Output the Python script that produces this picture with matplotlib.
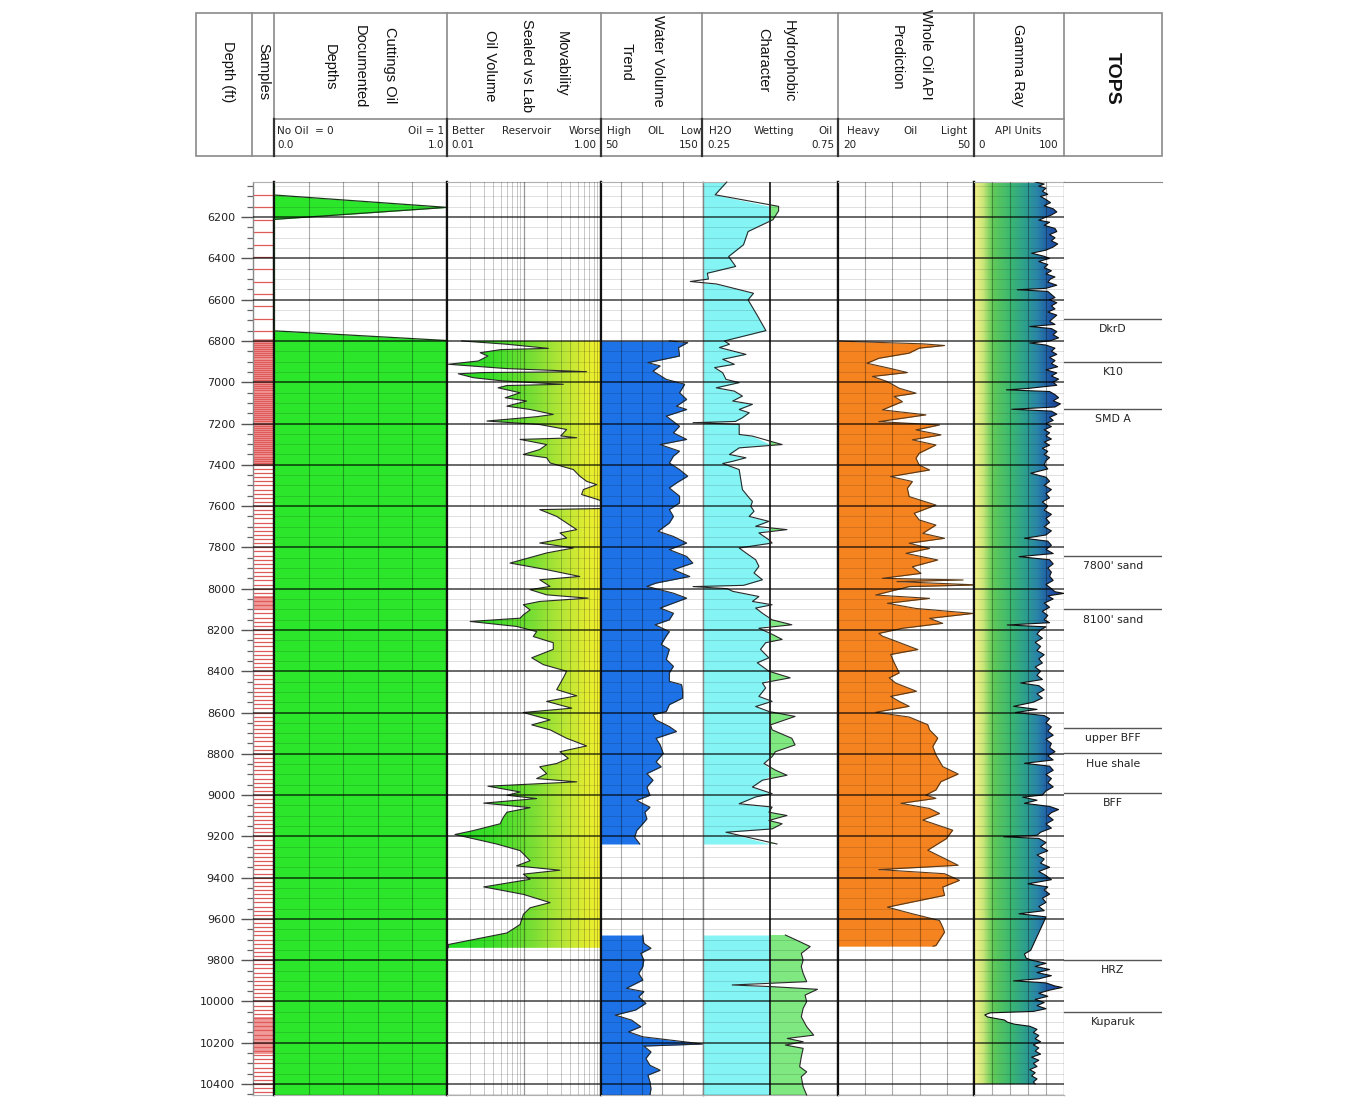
import numpy as np
import matplotlib
matplotlib.use("Agg")
import matplotlib.pyplot as plt
from matplotlib.colors import LinearSegmentedColormap
from matplotlib.patches import PathPatch, Rectangle
from matplotlib.path import Path

# ---------------------------------------------------------------- data
depth_top, depth_bottom = 6030, 10453
depth_major = list(range(6200, 10401, 200))
depth_minor = [d for d in range(6050, 10451, 50) if d % 200 != 0]

# Cuttings oil (0 = no oil, 1 = oil)
cut_depth = [6030, 6093, 6153, 6211, 6751, 6798, 10453]
cut_oil = [0, 0, 1, 0, 0, 1, 1]

# Samples: (first, last, step) and filled (dense) intervals
sample_sections = [(6093, 6753, 60), (6800, 7400, 10), (7420, 10440, 20)]
sample_filled = [(6790, 7405), (8035, 8100), (10075, 10255)]

# Movability sealed vs lab oil volume (log 0.01 - 1)
mov_depth = [6800, 6816, 6836, 6842, 6857, 6873, 6897, 6913, 6934, 6949, 6953, 6959,
             6978, 6994, 7010, 7016, 7027, 7051, 7075, 7091, 7116, 7132, 7156, 7167,
             7188, 7205, 7229, 7260, 7269, 7277, 7302, 7326, 7350, 7366, 7391, 7423,
             7455, 7480, 7496, 7520, 7544, 7569, 7575, 7612, 7617, 7650, 7682, 7714,
             7730, 7755, 7779, 7803, 7827, 7876, 7908, 7941, 7957, 7989, 8005, 8030,
             8046, 8062, 8078, 8103, 8127, 8143, 8159, 8183, 8208, 8232, 8262, 8294,
             8335, 8368, 8400, 8432, 8489, 8519, 8546, 8579, 8600, 8636, 8660, 8684,
             8725, 8762, 8790, 8822, 8847, 8863, 8896, 8920, 8936, 8957, 8985, 9001,
             9017, 9039, 9061, 9083, 9107, 9139, 9172, 9191, 9237, 9269, 9318, 9343,
             9364, 9383, 9408, 9445, 9481, 9521, 9546, 9578, 9627, 9668, 9724, 9740]
mov_val = [0.0155, 0.060, 0.207, 0.05, 0.027, 0.034, 0.0255, 0.0104, 0.060, 0.65, 0.03, 0.014,
           0.022, 0.054, 0.324, 0.06, 0.046, 0.089, 0.057, 0.108, 0.060, 0.12, 0.24, 0.146,
           0.033, 0.16, 0.358, 0.30, 0.484, 0.089, 0.197, 0.16, 0.098, 0.197, 0.218, 0.437,
           0.53, 0.65, 0.88, 0.59, 0.56, 0.92, 1.0, 1.0, 0.16, 0.266, 0.358, 0.484,
           0.293, 0.358, 0.16, 0.437, 0.197, 0.066, 0.197, 0.53, 0.16, 0.218, 0.12, 0.197,
           0.68, 0.16, 0.098, 0.12, 0.098, 0.089, 0.020, 0.08, 0.146, 0.132, 0.24, 0.24,
           0.126, 0.178, 0.358, 0.324, 0.266, 0.484, 0.197, 0.417, 0.098, 0.218, 0.126, 0.218,
           0.358, 0.65, 0.293, 0.376, 0.266, 0.16, 0.197, 0.146, 0.484, 0.034, 0.089, 0.06,
           0.146, 0.03, 0.12, 0.06, 0.054, 0.049, 0.022, 0.0127, 0.044, 0.089, 0.12, 0.08,
           0.293, 0.098, 0.12, 0.03, 0.098, 0.218, 0.12, 0.098, 0.089, 0.06, 0.0104, 0.0104]

# Water volume trend (50 - 150), two logged intervals
wat_depth_a = [6800, 6808, 6832, 6873, 6905, 6921, 6946, 6986, 7010, 7051, 7083, 7116,
               7132, 7164, 7213, 7245, 7277, 7302, 7334, 7358, 7391, 7423, 7455, 7488,
               7512, 7552, 7585, 7617, 7650, 7682, 7722, 7747, 7779, 7811, 7844, 7876,
               7908, 7941, 7973, 7989, 8022, 8046, 8070, 8094, 8119, 8151, 8175, 8208,
               8229, 8270, 8294, 8343, 8376, 8408, 8449, 8465, 8497, 8530, 8562, 8595,
               8611, 8636, 8668, 8692, 8725, 8757, 8798, 8839, 8863, 8896, 8928, 8961,
               9001, 9026, 9059, 9083, 9115, 9139, 9172, 9204, 9237]
wat_val_a = [117, 135, 126, 127, 96, 108, 101, 114, 132, 127, 134, 124,
             134, 114, 127, 121, 134, 108, 127, 121, 117, 127, 135, 124,
             117, 127, 127, 117, 121, 117, 106, 121, 134, 117, 134, 140,
             121, 137, 104, 95, 121, 134, 121, 108, 121, 117, 103, 117,
             114, 109, 117, 114, 121, 117, 117, 129, 130, 130, 117, 114,
             101, 104, 117, 124, 104, 108, 111, 104, 109, 95, 101, 95,
             98, 85, 98, 93, 95, 91, 85, 83, 88]
wat_depth_b = [9678, 9718, 9742, 9767, 9799, 9831, 9864, 9896, 9936, 9952, 9977, 10009,
               10041, 10066, 10090, 10122, 10147, 10171, 10206, 10216, 10244, 10276, 10309,
               10333, 10357, 10389, 10422, 10453]
wat_val_b = [91, 92, 99, 89, 92, 91, 87, 91, 75, 92, 87, 94,
             84, 64, 80, 89, 77, 91, 150, 92, 99, 94, 98,
             108, 96, 98, 99, 98]

# Hydrophobic character (0.25 - 0.75)
hyd_depth_a = [6030, 6092, 6148, 6170, 6213, 6270, 6334, 6391, 6439, 6472, 6500, 6512,
               6524, 6569, 6601, 6674, 6750, 6800, 6816, 6832, 6865, 6889, 6913, 6929,
               6954, 6986, 7002, 7027, 7043, 7067, 7091, 7107, 7132, 7148, 7172, 7190,
               7196, 7204, 7253, 7261, 7302, 7318, 7350, 7366, 7383, 7394, 7423, 7472,
               7520, 7560, 7577, 7601, 7625, 7650, 7674, 7698, 7714, 7730, 7763, 7779,
               7803, 7827, 7860, 7892, 7924, 7957, 7984, 7990, 8000, 8013, 8038, 8062,
               8078, 8094, 8119, 8151, 8175, 8192, 8221, 8246, 8262, 8294, 8335, 8359,
               8400, 8432, 8457, 8481, 8522, 8546, 8571, 8595, 8619, 8660, 8684, 8725,
               8757, 8790, 8814, 8847, 8879, 8904, 8928, 8961, 8993, 9009, 9042, 9058,
               9083, 9099, 9123, 9139, 9164, 9180, 9237]
hyd_val_a = [0.338, 0.295, 0.53, 0.53, 0.509, 0.417, 0.40, 0.345, 0.371, 0.266, 0.27, 0.203,
             0.30, 0.437, 0.417, 0.45, 0.483, 0.329, 0.348, 0.311, 0.409, 0.323, 0.366, 0.293,
             0.323, 0.335, 0.384, 0.299, 0.366, 0.396, 0.36, 0.433, 0.384, 0.421, 0.396, 0.37,
             0.213, 0.384, 0.384, 0.433, 0.543, 0.384, 0.348, 0.409, 0.36, 0.323, 0.384, 0.39,
             0.396, 0.421, 0.433, 0.427, 0.439, 0.421, 0.494, 0.445, 0.561, 0.457, 0.494, 0.506,
             0.384, 0.409, 0.445, 0.457, 0.439, 0.47, 0.40, 0.213, 0.34, 0.36, 0.457, 0.433,
             0.506, 0.445, 0.47, 0.506, 0.579, 0.457, 0.506, 0.543, 0.482, 0.463, 0.494, 0.451,
             0.494, 0.573, 0.47, 0.482, 0.457, 0.506, 0.445, 0.494, 0.591, 0.50, 0.506, 0.579,
             0.591, 0.518, 0.506, 0.476, 0.518, 0.561, 0.47, 0.433, 0.506, 0.445, 0.384, 0.506,
             0.494, 0.561, 0.494, 0.543, 0.506, 0.335, 0.524]
hyd_depth_b = [9678, 9702, 9734, 9767, 9799, 9831, 9864, 9904, 9920, 9928, 9941, 9969,
               10001, 10033, 10074, 10122, 10163, 10179, 10195, 10211, 10227, 10268, 10316,
               10341, 10365, 10413, 10453]
hyd_val_b = [0.555, 0.595, 0.647, 0.614, 0.621, 0.614, 0.621, 0.634, 0.358, 0.503, 0.674, 0.628,
             0.634, 0.621, 0.614, 0.634, 0.66, 0.562, 0.621, 0.555, 0.621, 0.614, 0.608,
             0.634, 0.614, 0.621, 0.634]

# Whole oil API prediction (20 - 50)
api_depth = [6800, 6804, 6814, 6822, 6835, 6859, 6884, 6908, 6932, 6953, 6972, 6997,
             7029, 7053, 7069, 7094, 7134, 7158, 7191, 7207, 7231, 7255, 7279, 7304,
             7344, 7368, 7401, 7425, 7457, 7481, 7514, 7554, 7595, 7635, 7667, 7692,
             7732, 7756, 7780, 7805, 7829, 7861, 7894, 7926, 7950, 7958, 7966, 7982,
             7990, 8031, 8047, 8071, 8096, 8120, 8144, 8168, 8192, 8217, 8230, 8254,
             8295, 8319, 8359, 8408, 8432, 8457, 8497, 8522, 8546, 8570, 8599, 8622,
             8659, 8684, 8724, 8765, 8805, 8862, 8898, 8935, 8975, 9000, 9016, 9040,
             9065, 9089, 9121, 9170, 9211, 9267, 9340, 9361, 9381, 9413, 9446, 9486,
             9543, 9575, 9608, 9640, 9664, 9729, 9732]
api_val = [20, 24.6, 38.7, 43.5, 37.9, 35.7, 29.0, 26.4, 31.3, 35.3, 27.6, 30.9,
           33.5, 37.2, 32.4, 34.2, 29.8, 39.4, 29.0, 42.4, 37.2, 42.7, 36.4, 41.6,
           37.9, 37.2, 37.9, 40.2, 31.6, 36.4, 35.3, 35.7, 41.6, 36.8, 37.9, 41.6,
           38.7, 43.5, 35.7, 40.2, 35.0, 42.0, 36.4, 38.3, 29.8, 47.6, 33.0, 50.8,
           35.7, 28.3, 40.2, 30.9, 37.2, 49.8, 40.2, 43.1, 34.2, 29.0, 29.8, 32.7,
           37.6, 31.6, 32.4, 33.5, 31.3, 32.7, 37.3, 31.6, 33.5, 35.7, 28.3, 35.7,
           39.8, 40.2, 42.0, 40.9, 41.6, 43.1, 46.5, 42.7, 41.6, 39.4, 41.6, 33.9,
           40.2, 42.4, 38.7, 45.3, 43.9, 39.8, 46.5, 29.0, 43.5, 46.8, 43.1, 43.5,
           30.9, 36.4, 42.4, 43.1, 43.5, 41.6, 41.0]

# Gamma ray (API units 0 - 100)
gr_depth = [6030, 6040, 6050, 6060, 6075, 6090, 6100, 6115, 6130, 6145, 6160, 6175, 6190,
            6200, 6215, 6225, 6240, 6255, 6270, 6285, 6300, 6315, 6330, 6345, 6360, 6375,
            6390, 6400, 6415, 6430, 6445, 6460, 6475, 6490, 6500, 6515, 6530, 6545, 6552,
            6560, 6575, 6590, 6600, 6615, 6630, 6645, 6660, 6675, 6690, 6705, 6720, 6730,
            6740, 6755, 6770, 6785, 6800, 6810, 6820, 6835, 6850, 6865, 6880, 6895, 6910,
            6925, 6940, 6955, 6970, 6985, 7000, 7015, 7030, 7037, 7045, 7060, 7075, 7090,
            7105, 7120, 7131, 7140, 7155, 7170, 7185, 7200, 7215, 7230, 7245, 7260, 7275,
            7290, 7305, 7320, 7335, 7350, 7365, 7380, 7400, 7420, 7441, 7460, 7480, 7500,
            7520, 7540, 7560, 7580, 7600, 7620, 7640, 7660, 7680, 7700, 7720, 7740, 7756,
            7770, 7790, 7810, 7830, 7845, 7860, 7880, 7900, 7920, 7940, 7960, 7980, 8000,
            8015, 8023, 8035, 8050, 8070, 8090, 8110, 8130, 8150, 8165, 8176, 8185, 8200,
            8220, 8240, 8260, 8280, 8300, 8320, 8340, 8360, 8380, 8400, 8420, 8440, 8457,
            8470, 8490, 8510, 8530, 8550, 8570, 8585, 8600, 8615, 8630, 8650, 8670, 8690,
            8710, 8730, 8750, 8770, 8790, 8810, 8830, 8846, 8860, 8880, 8900, 8920, 8940,
            8960, 8980, 9000, 9010, 9025, 9040, 9055, 9070, 9085, 9100, 9120, 9140, 9160,
            9180, 9195, 9202, 9210, 9230, 9250, 9270, 9290, 9310, 9330, 9350, 9370, 9390,
            9410, 9430, 9445, 9460, 9480, 9500, 9520, 9540, 9560, 9575, 9590, 9610, 9752,
            9770, 9790, 9800, 9815, 9830, 9845, 9860, 9875, 9890, 9900, 9910, 9925, 9932,
            9945, 9960, 9975, 9990, 10005, 10020, 10035, 10048, 10055, 10065, 10075, 10090,
            10100, 10110, 10120, 10135, 10150, 10165, 10180, 10195, 10210, 10225, 10240,
            10255, 10270, 10285, 10300, 10315, 10330, 10345, 10360, 10375, 10390, 10400]
gr_val = [68, 78, 72, 80, 76, 82, 74, 80, 85, 78, 88, 92, 86,
          80, 72, 84, 78, 90, 92, 84, 90, 86, 93, 88, 80, 64,
          78, 84, 72, 82, 78, 86, 80, 90, 85, 82, 92, 80, 48,
          82, 86, 90, 84, 92, 86, 90, 82, 92, 88, 84, 90, 62,
          86, 92, 88, 94, 84, 62, 80, 90, 86, 92, 84, 90, 86,
          93, 80, 92, 86, 94, 88, 92, 60, 36, 84, 90, 94, 88,
          96, 90, 42, 86, 92, 84, 88, 80, 86, 78, 84, 80, 86,
          78, 84, 76, 82, 78, 84, 80, 78, 82, 63, 80, 84, 78,
          86, 80, 84, 76, 82, 78, 86, 80, 84, 78, 86, 80, 56,
          82, 86, 80, 88, 50, 84, 88, 82, 86, 84, 88, 80, 86,
          90, 100, 82, 88, 78, 84, 76, 82, 78, 84, 37, 80, 74,
          70, 76, 68, 74, 70, 78, 72, 76, 68, 74, 70, 76, 52,
          72, 78, 70, 76, 66, 44, 70, 46, 78, 84, 80, 86, 82,
          88, 80, 86, 84, 90, 82, 88, 56, 84, 88, 80, 86, 82,
          88, 80, 76, 54, 70, 56, 84, 94, 86, 82, 88, 80, 86,
          74, 70, 33, 72, 80, 74, 82, 70, 78, 74, 84, 72, 80,
          86, 60, 82, 78, 84, 76, 80, 72, 78, 50, 80, 78, 63,
          56, 58, 64, 80, 68, 84, 70, 86, 72, 44, 80, 90, 98,
          84, 72, 82, 68, 78, 70, 80, 66, 18, 12, 15, 34,
          37, 45, 62, 70, 66, 72, 68, 74, 66, 72, 68,
          74, 64, 72, 66, 70, 62, 68, 64, 70, 66, 68]

# Formation tops
tops_name = ["DkrD", "K10", "SMD A", "7800' sand", "8100' sand", "upper BFF",
             "Hue shale", "BFF", "HRZ", "Kuparuk"]
tops_depth = [6694, 6902, 7130, 7842, 8099, 8675, 8797, 8990, 9799, 10051]

# ---------------------------------------------------------------- figure
W, H = 1366, 1108
fig = plt.figure(figsize=(W / 100, H / 100), dpi=100)
fig.patch.set_facecolor("white")
PY0, PY1 = 182, 1095

hdr = fig.add_axes([0, 0, 1, 1])
hdr.set_xlim(0, W)
hdr.set_ylim(H, 0)
hdr.axis("off")
hdr.set_zorder(0)

MAJ = (0, 0, 0, 0.75)
MIN = (0, 0, 0, 0.15)
VG = (0, 0, 0, 0.32)


def track(x0, x1):
    ax = fig.add_axes([x0 / W, 1 - PY1 / H, (x1 - x0) / W, (PY1 - PY0) / H])
    ax.set_zorder(1)
    ax.set_ylim(depth_bottom, depth_top)
    ax.set_xticks([])
    ax.set_yticks([])
    for s in ("top", "bottom"):
        ax.spines[s].set_color("#b0b0b0")
        ax.spines[s].set_linewidth(0.8)
    for s in ("left", "right"):
        ax.spines[s].set_color("#111111")
        ax.spines[s].set_linewidth(1.6)
    return ax


def hgrid(ax):
    for d in depth_minor:
        ax.axhline(d, color=MIN, lw=0.6, zorder=5)
    for d in depth_major:
        ax.axhline(d, color=MAJ, lw=1.1, zorder=6)


def vgrid(ax, xs, color=VG, lw=0.8):
    for x in xs:
        ax.axvline(x, color=color, lw=lw, zorder=5)


def gradient_fill(ax, depth, vals, edge, cmap):
    verts = list(zip(vals, depth)) + [(edge, depth[-1]), (edge, depth[0])]
    patch = PathPatch(Path(verts), facecolor="none", edgecolor="none",
                      transform=ax.transData)
    ax.add_patch(patch)
    grad = np.linspace(0, 1, 512).reshape(1, -1)
    im = ax.imshow(grad, cmap=cmap, aspect="auto", extent=[0, 1, 0, 1],
                   transform=ax.transAxes, zorder=2, interpolation="bilinear")
    im.set_clip_path(patch)


LINE = dict(color="#2a2a2a", lw=0.8, zorder=4)

# ---- samples / depth track
ax_s = track(253, 274)
ax_s.spines["left"].set_color("#888888")
ax_s.spines["left"].set_linewidth(1.0)
ax_s.set_xlim(0, 1)
for a, b in sample_filled:
    ax_s.axhspan(a, b, color="#f09a9a", zorder=1, lw=0)
for a, b, step in sample_sections:
    for d in range(a, b + 1, step):
        ax_s.axhline(d, color="#e05a5a", lw=0.9, zorder=2)
for d in depth_major:
    ax_s.axhline(d, color=MAJ, lw=1.1, zorder=6)
ax_s.set_yticks(depth_major)
ax_s.set_yticklabels([str(d) for d in depth_major], family="DejaVu Sans")
ax_s.set_yticks(depth_minor, minor=True)
ax_s.tick_params(axis="y", which="major", length=8.5, width=1.0, color="#555555",
                 pad=4.5, labelsize=8, labelcolor="#222222")
ax_s.tick_params(axis="y", which="minor", length=4, width=0.9, color="#666666")
ax_s.set_ylim(depth_bottom, depth_top)

# ---- cuttings oil
ax_c = track(274, 447)
ax_c.set_xlim(0, 1)
ax_c.fill_betweenx(cut_depth, 0, cut_oil, color="#2ce62c", lw=0, zorder=2)
ax_c.plot(cut_oil, cut_depth, color="#1a3a1a", lw=0.9, zorder=4)
vgrid(ax_c, [0.2, 0.4, 0.6, 0.8])
hgrid(ax_c)

# ---- movability
ax_m = track(447, 601)
ax_m.set_xscale("log")
ax_m.set_xlim(0.01, 1.0)
mov_cmap = LinearSegmentedColormap.from_list(
    "mov", [(0.0, "#1fdc1f"), (0.3, "#3cdf2a"), (0.55, "#78de34"), (0.75, "#b6e636"),
            (0.9, "#e0ec32"), (1.0, "#f2f02c")])
gradient_fill(ax_m, mov_depth, mov_val, 1.0, mov_cmap)
ax_m.plot(mov_val, mov_depth, **LINE)
log_lines = [m * 10.0 ** e for e in (-2, -1) for m in range(2, 10)]
vgrid(ax_m, log_lines, color=(0, 0, 0, 0.22), lw=0.7)
vgrid(ax_m, [0.1], color=(0, 0, 0, 0.4), lw=0.9)
ax_m.set_xlim(0.01, 1.0)
ax_m.set_ylim(depth_bottom, depth_top)
hgrid(ax_m)
ax_m.xaxis.set_visible(False)

# ---- water volume
ax_w = track(601, 703)
ax_w.set_xlim(50, 150)
ax_w.spines["right"].set_color("#888888")
ax_w.spines["right"].set_linewidth(1.0)
for dd, vv in ((wat_depth_a, wat_val_a), (wat_depth_b, wat_val_b)):
    ax_w.fill_betweenx(dd, 50, vv, color="#1c72e6", lw=0, zorder=2)
    ax_w.plot(vv, dd, **LINE)
vgrid(ax_w, [70, 90, 110, 130])
hgrid(ax_w)

# ---- hydrophobic character
ax_h = track(703, 838)
ax_h.set_xlim(0.25, 0.75)
ax_h.spines["left"].set_color("#888888")
ax_h.spines["left"].set_linewidth(1.0)
for dd, vv in ((hyd_depth_a, hyd_val_a), (hyd_depth_b, hyd_val_b)):
    vv = np.array(vv)
    ax_h.fill_betweenx(dd, 0.25, np.minimum(vv, 0.5), color="#84f4f4", lw=0, zorder=2)
    ax_h.fill_betweenx(dd, 0.5, vv, where=vv > 0.5, interpolate=True,
                       color="#80e880", lw=0, zorder=2)
    ax_h.plot(vv, dd, clip_on=False, **LINE)
vgrid(ax_h, [0.5], color="#222222", lw=1.3)
hgrid(ax_h)

# ---- whole oil API
ax_a = track(838, 974)
ax_a.set_xlim(20, 50)
ax_a.fill_betweenx(api_depth, 20, api_val, color="#f5831f", lw=0, zorder=2)
ax_a.plot(api_val, api_depth, color="#5a3a1a", lw=0.8, zorder=4)
vgrid(ax_a, [26, 32, 38, 44])
hgrid(ax_a)

# ---- gamma ray
ax_g = track(974, 1064)
ax_g.set_xlim(0, 100)
ax_g.spines["right"].set_color("#999999")
ax_g.spines["right"].set_linewidth(1.0)
gr_cmap = LinearSegmentedColormap.from_list(
    "gr", [(0.0, "#f8f28a"), (0.1, "#cce67a"), (0.2, "#64cc58"), (0.4, "#3cb870"),
           (0.55, "#2ea38a"), (0.7, "#2a85a8"), (0.85, "#1f55a5"), (1.0, "#1a3a8e")])
gradient_fill(ax_g, gr_depth, gr_val, 0, gr_cmap)
ax_g.plot(gr_val, gr_depth, color="#111111", lw=0.8, zorder=4)
ax_g.set_xlim(0, 100)
ax_g.set_ylim(depth_bottom, depth_top)
vgrid(ax_g, [20, 40, 60, 80])
hgrid(ax_g)

# ---- tops
ax_t = track(1064, 1162)
ax_t.set_xlim(0, 1)
for s in ("left", "right", "bottom"):
    ax_t.spines[s].set_visible(False)
ax_t.spines["top"].set_color("#888888")
for name, d in zip(tops_name, tops_depth):
    ax_t.axhline(d, color="#555555", lw=1.0)
    ax_t.annotate(name, xy=(0.5, d), xycoords=("axes fraction", "data"),
                  xytext=(0, -7.5), textcoords="offset points", ha="center",
                  va="center", fontsize=7.8, family="DejaVu Sans", color="#222222")

# ---------------------------------------------------------------- header
HC = "#8a8a8a"
hdr.add_patch(Rectangle((196, 13), 966, 143, fill=False, ec=HC, lw=1.2))
for x in [252, 274, 447, 601, 702, 838, 974, 1064]:
    hdr.plot([x, x], [13, 156], color=HC, lw=1.2)
hdr.plot([274, 1064], [119, 119], color=HC, lw=1.2)
for x in [274, 447, 601, 702, 838, 974]:
    hdr.plot([x, x], [119, 156], color="#333333", lw=1.6)

titles = [("Depth (ft)", 228, 72), ("Samples", 263, 72),
          ("Cuttings Oil", 390, 65), ("Documented", 360, 67), ("Depths", 330, 67),
          ("Movability", 562, 64), ("Sealed vs Lab", 527, 66), ("Oil Volume", 490, 66),
          ("Water Volume", 658, 61), ("Trend", 627, 62),
          ("Hydrophobic", 789, 61), ("Character", 763, 60),
          ("Whole Oil API", 926, 54), ("Prediction", 897, 58),
          ("Gamma Ray", 1018, 65)]
for t, x, y in titles:
    hdr.text(x, y, t, rotation=270, ha="center", va="center", fontsize=10.5,
             family="Liberation Sans", color="#111111")
hdr.text(1112, 78, "TOPS", rotation=270, ha="center", va="center", fontsize=14,
         family="Liberation Sans", weight="bold", color="#111111")

S = dict(fontsize=7.5, family="DejaVu Sans", color="#222222", va="center")
Y1, Y2 = 131, 145
scale_row = [
    ("No Oil  = 0", 277, Y1, "left"), ("Oil = 1", 444, Y1, "right"),
    ("0.0", 277, Y2, "left"), ("1.0", 444, Y2, "right"),
    ("Better", 452, Y1, "left"), ("Reservoir", 527, Y1, "center"), ("Worse", 601, Y1, "right"),
    ("0.01", 451, Y2, "left"), ("1.00", 597, Y2, "right"),
    ("High", 607, Y1, "left"), ("OIL", 656, Y1, "center"), ("Low", 702, Y1, "right"),
    ("50", 605, Y2, "left"), ("150", 699, Y2, "right"),
    ("H2O", 709, Y1, "left"), ("Wetting", 774, Y1, "center"), ("Oil", 833, Y1, "right"),
    ("0.25", 707, Y2, "left"), ("0.75", 835, Y2, "right"),
    ("Heavy", 847, Y1, "left"), ("Oil", 910, Y1, "center"), ("Light", 967, Y1, "right"),
    ("20", 843, Y2, "left"), ("50", 970, Y2, "right"),
    ("API Units", 1018, Y1, "center"), ("0", 978, Y2, "left"), ("100", 1058, Y2, "right"),
]
for t, x, y, ha in scale_row:
    hdr.text(x, y, t, ha=ha, **S)

fig.savefig("out.png", dpi=100)
